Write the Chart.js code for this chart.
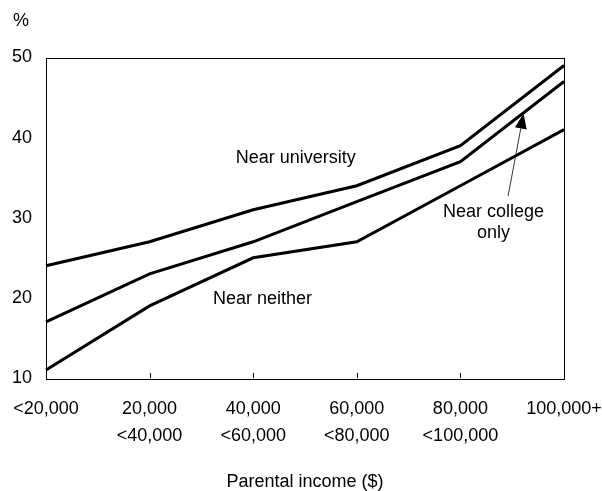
<!DOCTYPE html>
<html>
<head>
<meta charset="utf-8">
<script src="https://cdn.jsdelivr.net/npm/chart.js@4/dist/chart.umd.min.js"></script>
<style>
	html, body { margin: 0; padding: 0; background: #fff; }
	#wrap { width: 602px; height: 491px; }
</style>
</head>
<body>
<div id="wrap"><canvas id="main-chart" width="602" height="491"></canvas></div>
<script>
// categories (parental income bands)
const incomeBands = [
	'<20,000',
	['20,000', '<40,000'],
	['40,000', '<60,000'],
	['60,000', '<80,000'],
	['80,000', '<100,000'],
	'100,000+'
];

// % attending university
const nearUniversity = [24, 27, 31, 34, 39, 49];
const nearCollegeOnly = [17, 23, 27, 32, 37, 47];
const nearNeither = [11, 19, 25, 27, 34, 41];

const yTicks = [10, 20, 30, 40, 50];

// annotation spots, in data units (category index, %)
const labelUniversity = { x: 2.41, y: 37.4 };
const labelNeither = { x: 2.09, y: 19.9 };
const labelCollege = { x: 4.32, y: 30.7 };
const arrowTail = { x: 4.46, y: 32.7 };
const arrowTip = { x: 4.61, y: 43.0 };

Chart.defaults.font.family = '"Liberation Sans", Arial, sans-serif';
Chart.defaults.font.size = 18;
Chart.defaults.color = '#000';

const extras = {
	id: 'extras',
	afterDraw(chart) {
		const ctx = chart.ctx;
		const area = chart.chartArea;
		const xs = chart.scales.x;
		const ys = chart.scales.y;
		ctx.save();

		// plot frame
		ctx.strokeStyle = '#000';
		ctx.lineWidth = 1;
		ctx.strokeRect(Math.round(area.left) + 0.5, Math.round(area.top) + 0.5,
			Math.round(area.right - area.left), Math.round(area.bottom - area.top));

		// inner tick marks on x axis
		for (let i = 1; i < incomeBands.length - 1; i++) {
			const px = Math.round(xs.getPixelForTick(i)) + 0.5;
			ctx.beginPath();
			ctx.moveTo(px, area.bottom);
			ctx.lineTo(px, area.bottom - 5);
			ctx.stroke();
		}

		// unit label
		ctx.fillStyle = '#000';
		ctx.font = '18px "Liberation Sans", Arial, sans-serif';
		ctx.textAlign = 'left';
		ctx.textBaseline = 'middle';
		ctx.fillText('%', 13, 21);

		// series labels
		ctx.textAlign = 'center';
		ctx.fillText('Near university', xs.getPixelForValue(labelUniversity.x), ys.getPixelForValue(labelUniversity.y));
		ctx.fillText('Near neither', xs.getPixelForValue(labelNeither.x), ys.getPixelForValue(labelNeither.y));
		const cx = xs.getPixelForValue(labelCollege.x);
		const cy = ys.getPixelForValue(labelCollege.y);
		ctx.fillText('Near college', cx, cy);
		ctx.fillText('only', cx, cy + 21);

		// arrow to the college line
		const tx = xs.getPixelForValue(arrowTail.x), ty = ys.getPixelForValue(arrowTail.y);
		const hx = xs.getPixelForValue(arrowTip.x), hy = ys.getPixelForValue(arrowTip.y);
		const ang = Math.atan2(hy - ty, hx - tx);
		const len = 15, half = 6;
		const bx = hx - len * Math.cos(ang), by = hy - len * Math.sin(ang);
		ctx.lineWidth = 0.8;
		ctx.beginPath();
		ctx.moveTo(tx, ty);
		ctx.lineTo(bx, by);
		ctx.stroke();
		ctx.beginPath();
		ctx.moveTo(hx, hy);
		ctx.lineTo(bx + half * Math.sin(ang), by - half * Math.cos(ang));
		ctx.lineTo(bx - half * Math.sin(ang), by + half * Math.cos(ang));
		ctx.closePath();
		ctx.fill();

		ctx.restore();
	}
};

function lineSet(label, values) {
	return {
		label: label,
		data: values,
		borderColor: '#000',
		borderWidth: 3,
		pointRadius: 0,
		tension: 0,
		fill: false
	};
}

const chart = new Chart(document.getElementById('main-chart'), {
	type: 'line',
	data: {
		labels: incomeBands,
		datasets: [
			lineSet('Near university', nearUniversity),
			lineSet('Near college only', nearCollegeOnly),
			lineSet('Near neither', nearNeither)
		]
	},
	options: {
		responsive: false,
		animation: false,
		layout: { padding: { top: 57.5, right: 38, left: 0, bottom: 0 } },
		plugins: { legend: { display: false }, tooltip: { enabled: false } },
		scales: {
			x: {
				offset: false,
				grid: { display: false, drawTicks: false },
				border: { display: false },
				ticks: { padding: 17, maxRotation: 0, autoSkip: false, font: { size: 18, lineHeight: 1.53 } },
				title: { display: true, text: 'Parental income ($)', font: { size: 18, lineHeight: 1 }, padding: { top: 0, bottom: 0 } },
				afterFit(scale) {
					scale.height = 113;
					scale.paddingLeft = 0;
					scale.paddingRight = 0;
				}
			},
			y: {
				min: 10,
				max: 50,
				grid: { display: false, drawTicks: false },
				border: { display: false },
				afterBuildTicks(scale) { scale.ticks = yTicks.map(v => ({ value: v })); },
				ticks: { padding: 14 },
				afterFit(scale) {
					scale.width = 46;
					scale.paddingTop = 0;
					scale.paddingBottom = 0;
				}
			}
		}
	},
	plugins: [extras]
});
</script>
</body>
</html>
